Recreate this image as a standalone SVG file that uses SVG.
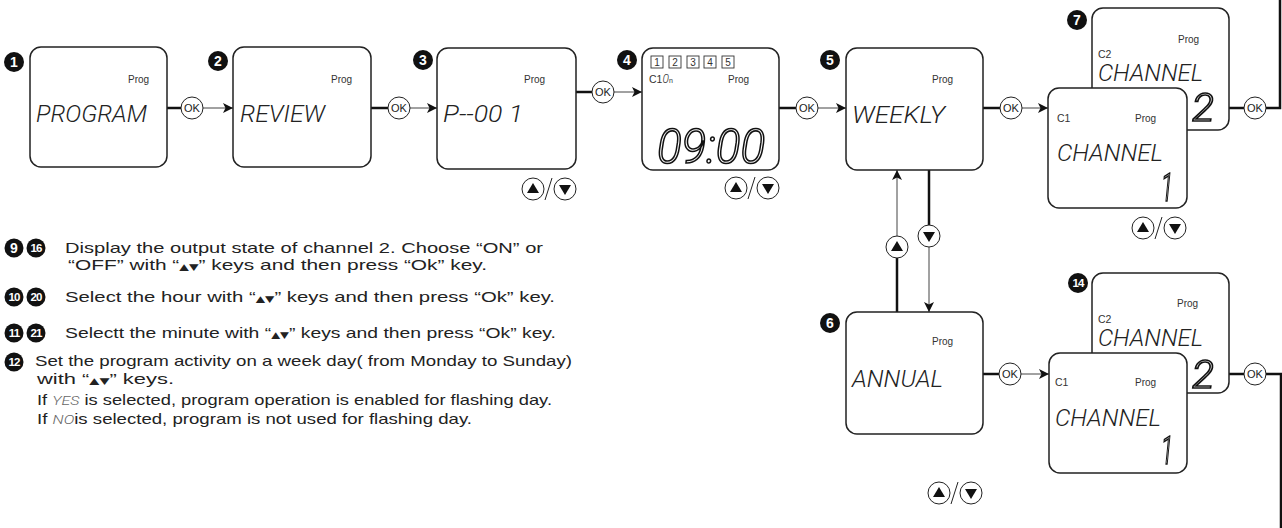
<svg xmlns="http://www.w3.org/2000/svg" width="1282" height="528" viewBox="0 0 1282 528">
<style>
.box{fill:#fff;stroke:#222;stroke-width:1.5}
.prog{font-family:"Liberation Sans",Arial,sans-serif;font-size:10px;fill:#333}
.lbl{font-family:"Liberation Sans",Arial,sans-serif;font-size:10.5px;fill:#333}
.lcd{font-family:Roboto,"DejaVu Sans",sans-serif;font-weight:300;font-style:italic;fill:#222}
.big{font-family:Roboto,"DejaVu Sans",sans-serif;font-weight:300;font-style:italic;fill:#fff;stroke:#111;stroke-width:1.6}
.badge{fill:#111}
.bnum{font-family:"Liberation Sans",Arial,sans-serif;font-weight:bold;font-size:14px;fill:#fff;text-anchor:middle}
.bnum2{font-family:"Liberation Sans",Arial,sans-serif;font-weight:bold;font-size:11.5px;fill:#fff;text-anchor:middle;letter-spacing:-0.8px}
.thick{stroke:#111;stroke-width:2.5;fill:none}
.thin{stroke:#444;stroke-width:1;fill:none}
.okc{fill:#fff;stroke:#222;stroke-width:1}
.okt{font-family:"Liberation Sans",Arial,sans-serif;font-size:11px;fill:#222;text-anchor:middle}
.desc{font-family:"Liberation Sans",Arial,sans-serif;font-size:15px;fill:#222}
.tri{font-family:"DejaVu Sans",sans-serif;font-size:9px}
.seg{font-family:Roboto,"DejaVu Sans",sans-serif;font-weight:300;font-style:italic;font-size:13px;fill:#666}
.sq{fill:#fff;stroke:#333;stroke-width:0.9}
.sqt{font-family:"Liberation Sans",Arial,sans-serif;font-size:10px;fill:#333;text-anchor:middle}
</style>
<defs>
<filter id="gs" x="-0.2" y="-0.2" width="1.4" height="1.4"><feOffset dx="0" dy="0"/></filter>
<marker id="arr" viewBox="0 0 10 10" refX="10" refY="5" markerWidth="10" markerHeight="10" markerUnits="userSpaceOnUse" orient="auto">
<path d="M0,0 L10,5 L0,10 L2.5,5 Z" fill="#111"/>
</marker>
<g id="up"><circle r="11" fill="#fff" stroke="#222" stroke-width="1"/><path d="M-6,4 L6,4 L0,-6 Z" fill="#111"/></g>
<g id="dn"><circle r="11" fill="#fff" stroke="#222" stroke-width="1"/><path d="M-6,-4 L6,-4 L0,6 Z" fill="#111"/></g>
<g id="updn"><use href="#up" x="-16"/><line x1="-4" y1="11" x2="3" y2="-11" stroke="#222" stroke-width="1"/><use href="#dn" x="16"/></g>
</defs>

<rect width="1282" height="528" fill="#fff"/>

<g id="connectors">
<line class="thick" x1="167" y1="108" x2="181" y2="108"/>
<line class="thin" x1="203" y1="108" x2="233" y2="108" marker-end="url(#arr)"/>
<circle class="okc" cx="192" cy="108" r="11"/><text class="okt" x="192" y="112">OK</text>
<line class="thick" x1="371" y1="108" x2="388" y2="108"/>
<line class="thin" x1="410" y1="108" x2="437" y2="108" marker-end="url(#arr)"/>
<circle class="okc" cx="399" cy="108" r="11"/><text class="okt" x="399" y="112">OK</text>
<line class="thick" x1="576" y1="92" x2="592" y2="92"/>
<line class="thin" x1="614" y1="92" x2="642" y2="92" marker-end="url(#arr)"/>
<circle class="okc" cx="603" cy="92" r="11"/><text class="okt" x="603" y="96">OK</text>
<line class="thick" x1="779" y1="108" x2="796" y2="108"/>
<line class="thin" x1="818" y1="108" x2="846" y2="108" marker-end="url(#arr)"/>
<circle class="okc" cx="807" cy="108" r="11"/><text class="okt" x="807" y="112">OK</text>
<line class="thick" x1="983" y1="108" x2="1000" y2="108"/>
<line class="thin" x1="1022" y1="108" x2="1048" y2="108" marker-end="url(#arr)"/>
<circle class="okc" cx="1011" cy="108" r="11"/><text class="okt" x="1011" y="112">OK</text>
<line class="thick" x1="1229" y1="108" x2="1244" y2="108"/>
<polyline class="thick" points="1266,108 1280,108 1280,0"/>
<circle class="okc" cx="1255" cy="108" r="11"/><text class="okt" x="1255" y="112">OK</text>
<line class="thick" x1="897" y1="312" x2="897" y2="258"/>
<line class="thin" x1="897" y1="236" x2="897" y2="170" marker-end="url(#arr)"/>
<use href="#up" x="897" y="247"/>
<line class="thick" x1="929" y1="170" x2="929" y2="225"/>
<line class="thin" x1="929" y1="247" x2="929" y2="312" marker-end="url(#arr)"/>
<use href="#dn" x="929" y="236"/>
<line class="thick" x1="983" y1="374" x2="999" y2="374"/>
<line class="thin" x1="1021" y1="374" x2="1049" y2="374" marker-end="url(#arr)"/>
<circle class="okc" cx="1010" cy="374" r="11"/><text class="okt" x="1010" y="378">OK</text>
<line class="thick" x1="1229" y1="374" x2="1244" y2="374"/>
<polyline class="thick" points="1266,374 1281,374 1281,528"/>
<circle class="okc" cx="1255" cy="374" r="11"/><text class="okt" x="1255" y="378">OK</text>
</g>

<g id="node1">
<rect class="box" x="30" y="47" width="137" height="120" rx="11"/>
<circle class="badge" cx="14" cy="62" r="10"/><text class="bnum" x="14" y="67">1</text>
<text class="prog" x="128" y="83">Prog</text>
<text class="lcd" x="36" y="122" font-size="23" textLength="111" lengthAdjust="spacingAndGlyphs">PROGRAM</text>
</g>

<g id="node2">
<rect class="box" x="233" y="47" width="138" height="120" rx="11"/>
<circle class="badge" cx="218" cy="61" r="10"/><text class="bnum" x="218" y="66">2</text>
<text class="prog" x="331" y="83">Prog</text>
<text class="lcd" x="240" y="122" font-size="23" textLength="85" lengthAdjust="spacingAndGlyphs">REVIEW</text>
</g>

<g id="node3">
<rect class="box" x="437" y="48" width="139" height="121" rx="11"/>
<circle class="badge" cx="423" cy="60" r="10"/><text class="bnum" x="423" y="65">3</text>
<text class="prog" x="524" y="83">Prog</text>
<text class="lcd" x="443" y="122" font-size="23" textLength="80" lengthAdjust="spacingAndGlyphs">P--00 1</text>
<use href="#updn" x="549" y="189"/>
</g>

<g id="node4">
<rect class="box" x="642" y="48" width="137" height="122" rx="11"/>
<circle class="badge" cx="627" cy="60" r="10"/><text class="bnum" x="627" y="65">4</text>
<rect class="sq" x="651" y="56" width="12" height="12"/><text class="sqt" x="657" y="66">1</text>
<rect class="sq" x="669" y="56" width="12" height="12"/><text class="sqt" x="675" y="66">2</text>
<rect class="sq" x="687" y="56" width="12" height="12"/><text class="sqt" x="693" y="66">3</text>
<rect class="sq" x="704" y="56" width="12" height="12"/><text class="sqt" x="710" y="66">4</text>
<rect class="sq" x="722" y="56" width="12" height="12"/><text class="sqt" x="728" y="66">5</text>
<text class="lbl" x="649" y="83">C1<tspan font-family="Roboto,sans-serif" font-weight="300" font-size="12" font-style="italic">0</tspan><tspan font-size="7">n</tspan></text>
<text class="prog" x="728" y="83">Prog</text>
<text class="big" x="657" y="163" font-size="48" textLength="108" lengthAdjust="spacingAndGlyphs" filter="url(#gs)">09:00</text>
<use href="#updn" x="752" y="188"/>
</g>

<g id="node5">
<rect class="box" x="846" y="48" width="137" height="122" rx="11"/>
<circle class="badge" cx="830" cy="60" r="10"/><text class="bnum" x="830" y="65">5</text>
<text class="prog" x="932" y="83">Prog</text>
<text class="lcd" x="852" y="123" font-size="23" textLength="93" lengthAdjust="spacingAndGlyphs">WEEKLY</text>
</g>

<g id="node7">
<rect class="box" x="1092" y="8" width="137" height="122" rx="11"/>
<circle class="badge" cx="1077" cy="20" r="10"/><text class="bnum" x="1077" y="25">7</text>
<text class="prog" x="1178" y="43">Prog</text>
<text class="lbl" x="1098" y="58">C2</text>
<text class="lcd" x="1098" y="81" font-size="24" textLength="105" lengthAdjust="spacingAndGlyphs">CHANNEL</text>
<text class="big" x="1192" y="121" font-size="38" textLength="22" lengthAdjust="spacingAndGlyphs" filter="url(#gs)">2</text>
<rect class="box" x="1048" y="88" width="139" height="120" rx="11"/>
<text class="lbl" x="1057" y="122">C1</text>
<text class="prog" x="1135" y="122">Prog</text>
<text class="lcd" x="1057" y="161" font-size="24" textLength="106" lengthAdjust="spacingAndGlyphs">CHANNEL</text>
<text class="big" x="1161" y="201" font-size="38" textLength="12" lengthAdjust="spacingAndGlyphs" filter="url(#gs)">1</text>
<use href="#updn" x="1159" y="228"/>
</g>

<g id="node6">
<rect class="box" x="846" y="312" width="137" height="122" rx="11"/>
<circle class="badge" cx="830" cy="323" r="10"/><text class="bnum" x="830" y="328">6</text>
<text class="prog" x="932" y="345">Prog</text>
<text class="lcd" x="852" y="387" font-size="23" textLength="91" lengthAdjust="spacingAndGlyphs">ANNUAL</text>
<use href="#updn" x="955" y="493"/>
</g>

<g id="node14">
<rect class="box" x="1092" y="273" width="137" height="120" rx="11"/>
<circle class="badge" cx="1078" cy="283" r="10"/><text class="bnum2" x="1078" y="287">14</text>
<text class="prog" x="1177" y="307">Prog</text>
<text class="lbl" x="1098" y="323">C2</text>
<text class="lcd" x="1098" y="346" font-size="24" textLength="105" lengthAdjust="spacingAndGlyphs">CHANNEL</text>
<text class="big" x="1192" y="388" font-size="38" textLength="22" lengthAdjust="spacingAndGlyphs" filter="url(#gs)">2</text>
<rect class="box" x="1049" y="353" width="138" height="120" rx="11"/>
<text class="lbl" x="1055" y="386">C1</text>
<text class="prog" x="1135" y="386">Prog</text>
<text class="lcd" x="1055" y="426" font-size="24" textLength="106" lengthAdjust="spacingAndGlyphs">CHANNEL</text>
<text class="big" x="1161" y="464" font-size="38" textLength="12" lengthAdjust="spacingAndGlyphs" filter="url(#gs)">1</text>
</g>

<g id="notes">
<circle class="badge" cx="14" cy="248" r="9.5"/><text class="bnum" x="14" y="253">9</text>
<circle class="badge" cx="36" cy="248" r="9.5"/><text class="bnum2" x="36" y="252">16</text>
<text class="desc" x="65" y="253" textLength="478" lengthAdjust="spacingAndGlyphs">Display the output state of channel 2. Choose “ON” or</text>
<text class="desc" x="68" y="270" textLength="419" lengthAdjust="spacingAndGlyphs">“OFF” with “<tspan class="tri">▲▼</tspan>” keys and  then press “Ok” key.</text>

<circle class="badge" cx="14" cy="297" r="9.5"/><text class="bnum2" x="14" y="301">10</text>
<circle class="badge" cx="36" cy="297" r="9.5"/><text class="bnum2" x="36" y="301">20</text>
<text class="desc" x="65" y="302" textLength="490" lengthAdjust="spacingAndGlyphs">Select the hour with “<tspan class="tri">▲▼</tspan>” keys and then press “Ok” key.</text>

<circle class="badge" cx="14" cy="333" r="9.5"/><text class="bnum2" x="14" y="337">11</text>
<circle class="badge" cx="36" cy="333" r="9.5"/><text class="bnum2" x="36" y="337">21</text>
<text class="desc" x="65" y="338" textLength="491" lengthAdjust="spacingAndGlyphs">Selectt the minute with “<tspan class="tri">▲▼</tspan>” keys and then press “Ok” key.</text>

<circle class="badge" cx="14" cy="362" r="9.5"/><text class="bnum2" x="14" y="366">12</text>
<text class="desc" x="35" y="366" textLength="537" lengthAdjust="spacingAndGlyphs">Set the program activity on a week day( from Monday to Sunday)</text>
<text class="desc" x="37" y="384" textLength="137" lengthAdjust="spacingAndGlyphs">with “<tspan class="tri">▲▼</tspan>” keys.</text>
<text class="desc" x="37" y="405" textLength="515" lengthAdjust="spacingAndGlyphs">If <tspan class="seg">YES</tspan> is selected, program operation is enabled for flashing day.</text>
<text class="desc" x="37" y="424" textLength="435" lengthAdjust="spacingAndGlyphs">If <tspan class="seg">NO</tspan>is selected, program is not used for flashing day.</text>
</g>
</svg>
